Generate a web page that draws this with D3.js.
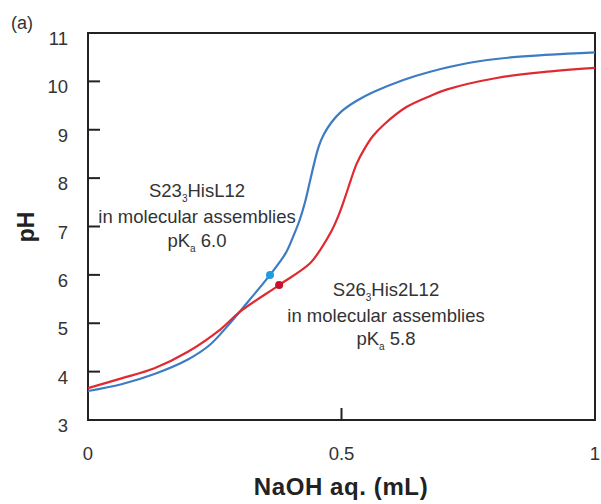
<!DOCTYPE html>
<html>
<head>
<meta charset="utf-8">
<script src="https://cdn.jsdelivr.net/npm/d3@7"></script>
<style>
  body { margin: 0; background: #fff; }
  text { font-family: "Liberation Sans", Arial, sans-serif; fill: #333; }
</style>
</head>
<body>
<script>
// titration curves
const blueX = [0, 0.066, 0.131, 0.197, 0.24, 0.28, 0.316, 0.359, 0.39, 0.405, 0.418, 0.428, 0.437, 0.446, 0.455, 0.465, 0.48, 0.5, 0.53, 0.563, 0.622, 0.675, 0.75, 0.839, 1.0];
const bluePH = [3.60, 3.74, 3.95, 4.25, 4.55, 5.0, 5.45, 6.0, 6.45, 6.8, 7.15, 7.5, 7.9, 8.3, 8.65, 8.9, 9.15, 9.38, 9.6, 9.78, 10.03, 10.2, 10.38, 10.5, 10.6];
const redX = [0, 0.066, 0.131, 0.197, 0.262, 0.30, 0.377, 0.438, 0.46, 0.48, 0.495, 0.507, 0.518, 0.53, 0.545, 0.562, 0.585, 0.628, 0.675, 0.707, 0.806, 0.905, 1.0];
const redPH = [3.66, 3.86, 4.07, 4.41, 4.88, 5.24, 5.79, 6.24, 6.55, 6.9, 7.25, 7.6, 7.95, 8.3, 8.6, 8.87, 9.12, 9.47, 9.7, 9.83, 10.07, 10.2, 10.28];
const pkaPoints = [[0.359, 6.0], [0.377, 5.79]];
const yTicks = [3, 4, 5, 6, 7, 8, 9, 10, 11];
const xTicks = [0, 0.5, 1];
const xTickLabels = ["0", "0.5", "1"];

const width = 601, height = 504;
const plotLeft = 88, plotRight = 595, plotTop = 33, plotBottom = 420;

const svg = d3.select("body").append("svg")
    .attr("width", width).attr("height", height);

const x = d3.scaleLinear().domain([0, 1]).range([plotLeft, plotRight]);
const y = d3.scaleLinear().domain([3, 11]).range([plotBottom, plotTop]);

// frame
svg.append("rect")
    .attr("x", plotLeft).attr("y", plotTop)
    .attr("width", plotRight - plotLeft).attr("height", plotBottom - plotTop)
    .attr("fill", "none").attr("stroke", "#222").attr("stroke-width", 2);

// inward ticks
svg.selectAll(".ytick").data(yTicks).join("line")
    .attr("x1", plotLeft).attr("x2", plotLeft + 12)
    .attr("y1", d => y(d)).attr("y2", d => y(d))
    .attr("stroke", "#222").attr("stroke-width", 2);
svg.selectAll(".xtick").data(xTicks).join("line")
    .attr("x1", d => x(d)).attr("x2", d => x(d))
    .attr("y1", plotBottom).attr("y2", plotBottom - 12)
    .attr("stroke", "#222").attr("stroke-width", 2);

svg.selectAll(".ylab").data(yTicks).join("text")
    .attr("x", 68).attr("y", d => y(d) + 12)
    .attr("text-anchor", "end").attr("font-size", 18.5)
    .text(d => d);
svg.selectAll(".xlab").data(xTicks).join("text")
    .attr("x", d => x(d)).attr("y", 460)
    .attr("text-anchor", "middle").attr("font-size", 18.5)
    .text((d, i) => xTickLabels[i]);

// axis titles
svg.append("text")
    .attr("transform", "translate(34,227) rotate(-90)")
    .attr("text-anchor", "middle").attr("font-size", 23).attr("font-weight", "bold")
    .style("fill", "#222")
    .text("pH");
svg.append("text")
    .attr("x", 341).attr("y", 495)
    .attr("text-anchor", "middle").attr("font-size", 24).attr("font-weight", "bold")
    .attr("letter-spacing", 0.6)
    .style("fill", "#222")
    .text("NaOH aq. (mL)");

svg.append("text").attr("x", 11).attr("y", 29).attr("font-size", 18).text("(a)");

// curves
const line = d3.line().x(d => x(d[0])).y(d => y(d[1])).curve(d3.curveCatmullRom.alpha(0.5));
const series = [
    { xs: blueX, ys: bluePH, color: "#3d7cc4" },
    { xs: redX, ys: redPH, color: "#de2a30" }
];
series.forEach(s => {
    svg.append("path")
        .datum(s.xs.map((v, i) => [v, s.ys[i]]))
        .attr("d", line)
        .attr("fill", "none").attr("stroke", s.color).attr("stroke-width", 2.2);
});

const dotColors = ["#1f9ce0", "#c8102e"];
svg.selectAll(".dot").data(pkaPoints).join("circle")
    .attr("cx", d => x(d[0])).attr("cy", d => y(d[1])).attr("r", 4)
    .attr("fill", (d, i) => dotColors[i]);

// annotations
function label(cx, baselines, name1, name2, pka) {
    const g = svg.append("g").attr("font-size", 18.5).attr("text-anchor", "middle");
    const t1 = g.append("text").attr("x", cx).attr("y", baselines[0]);
    t1.append("tspan").text(name1);
    t1.append("tspan").attr("font-size", 10).attr("dy", 5).text("3");
    t1.append("tspan").attr("dy", -5).text(name2);
    g.append("text").attr("x", cx).attr("y", baselines[1]).text("in molecular assemblies");
    const t3 = g.append("text").attr("x", cx).attr("y", baselines[2]);
    t3.append("tspan").text("pK");
    t3.append("tspan").attr("font-size", 10).attr("dy", 5).text("a");
    t3.append("tspan").attr("dy", -5).text(" " + pka);
}
label(197, [197, 223, 247], "S23", "HisL12", "6.0");
label(386, [296, 322, 345], "S26", "His2L12", "5.8");
</script>
</body>
</html>
